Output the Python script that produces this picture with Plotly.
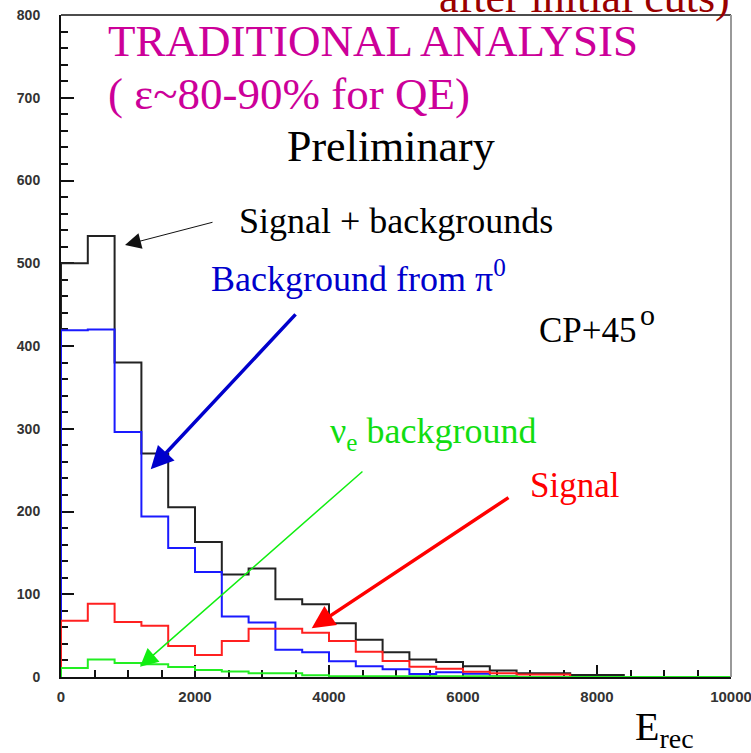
import plotly.graph_objects as go

# Reconstructed-energy histogram: 25 bins of 400 from 0 to 10000
bin_width = 400
n_bins = 25
edges = [i * bin_width for i in range(n_bins + 1)]

total = [500, 533, 380, 270, 205, 163, 124, 131, 94, 88, 65, 45, 30,
         21, 18, 13, 8, 4.5, 4.5, 2.5, 2.5, 0, 0, 0, 0]
pi0_bkg = [419, 420, 296, 194, 156, 127, 73, 66, 33, 30, 19, 13, 9.5,
           3.6, 5.6, 4, 1, 0, 0, 0, 0, 0, 0, 0, 0]
signal = [68, 88.6, 66.5, 62, 37.5, 26.6, 43.5, 58.4, 58.4, 53.5, 43.5, 30.6, 19.3,
          12.5, 10, 6.4, 4.4, 3, 3, 0, 0, 0, 0, 0, 0]
nue_bkg = [11, 21, 17, 15.5, 12, 8.5, 6.5, 4.5, 4.5, 2, 1, 1, 1,
           1, 1, 1, 1, 0, 0, 0, 0, 0, 0, 0, 0]

x_ticks = [0, 2000, 4000, 6000, 8000, 10000]
y_ticks = [0, 100, 200, 300, 400, 500, 600, 700, 800]

SERIF = "Liberation Serif, Times New Roman, serif"
SANS = "Liberation Sans, Arial, sans-serif"


def step_trace(vals, color, name):
    # ROOT-style histogram outline: rise from zero at the first edge
    xs = [edges[0]] + edges
    ys = [0] + list(vals) + [vals[-1]]
    return go.Scatter(x=xs, y=ys, mode="lines", name=name,
                      line=dict(color=color, width=2, shape="hv"),
                      cliponaxis=False, showlegend=False, hoverinfo="skip")


fig = go.Figure()
fig.add_trace(step_trace(total, "#222222", "Signal + backgrounds"))
fig.add_trace(step_trace(pi0_bkg, "#1a1aff", "Background from pi0"))
fig.add_trace(step_trace(signal, "#ff2020", "Signal"))
fig.add_trace(step_trace(nue_bkg, "#22ee22", "nu_e background"))

texts = [
    # text, x, y (data units), font size, colour
    ("TRADITIONAL ANALYSIS", 672, 768, 45, "#cc0099"),
    ("( \u03b5~80-90% for QE)", 672, 704, 45, "#cc0099"),
    ("Preliminary", 3343, 641, 44, "#000000"),
    ("Signal + backgrounds", 2627, 551, 36, "#000000"),
    ("Background from \u03c0<sup>0</sup>", 2209, 484, 36, "#0000cc"),
    ("CP+45", 7104, 419, 35, "#000000"),
    ("o", 8612, 438, 30, "#000000"),
    ("\u03bd<sub>e</sub> background", 3985, 294, 36, "#11dd11"),
    ("Signal", 6970, 232, 35, "#ff0000"),
]
annotations = []
for t, xv, yv, size, color in texts:
    annotations.append(dict(text=t, x=xv, y=yv, xref="x", yref="y",
                            xanchor="left", yanchor="middle", showarrow=False,
                            font=dict(family=SERIF, size=size, color=color)))

# Heading continued from above the frame, and the axis title below it
annotations.append(dict(text="after initial cuts)", x=0.561, y=1.027,
                        xref="paper", yref="paper", xanchor="left", yanchor="middle",
                        showarrow=False,
                        font=dict(family=SERIF, size=44, color="#990000")))
annotations.append(dict(text="E<sub>rec</sub>", x=8537, y=-0.078, xref="x", yref="paper",
                        xanchor="left", yanchor="middle", showarrow=False,
                        font=dict(family=SERIF, size=40, color="#000000")))

arrows = [
    # head x, head y, tail x, tail y, colour, width, head size
    (955, 522, 2284, 550, "#111111", 1, 3.2),
    (1339, 251, 3522, 440, "#0000cc", 3.5, 1.3),
    (1179, 12.4, 4522, 250, "#11ee11", 1.5, 2.4),
    (3742, 59, 6701, 218, "#ff0000", 3.5, 1.3),
]
for hx, hy, tx, ty, color, w, s in arrows:
    annotations.append(dict(x=hx, y=hy, ax=tx, ay=ty, xref="x", yref="y",
                            axref="x", ayref="y", text="", showarrow=True,
                            arrowhead=2, arrowsize=s, arrowwidth=w,
                            arrowcolor=color, standoff=0))

fig.update_layout(
    width=751, height=753, autosize=False,
    margin=dict(l=61, r=20, t=15, b=76, pad=0, autoexpand=False),
    paper_bgcolor="white", plot_bgcolor="white",
    annotations=annotations,
    shapes=[
        dict(type="line", xref="paper", yref="paper", x0=0, x1=1, y0=1, y1=1,
             line=dict(color="#111111", width=1.5)),
        dict(type="line", xref="paper", yref="paper", x0=1, x1=1, y0=0, y1=1,
             line=dict(color="#999999", width=2)),
    ],
    xaxis=dict(range=[0, 10000], tickvals=x_ticks, ticktext=[str(v) for v in x_ticks],
               ticks="inside", ticklen=12, tickwidth=1.5, tickcolor="#111111",
               minor=dict(dtick=500, ticks="inside", ticklen=7, tickwidth=1.5,
                          tickcolor="#111111"),
               showline=True, linecolor="#111111", linewidth=2,
               showgrid=False, zeroline=False, layer="below traces",
               automargin=False,
               ticklabelstandoff=5, ticklabeloverflow="allow",
               tickfont=dict(family=SANS, size=15, color="#333333", weight="bold")),
    yaxis=dict(range=[0, 800], tickvals=y_ticks, ticktext=[str(v) for v in y_ticks],
               ticks="inside", ticklen=13, tickwidth=1.5, tickcolor="#111111",
               minor=dict(dtick=20, ticks="inside", ticklen=7, tickwidth=1.5,
                          tickcolor="#111111"),
               showline=True, linecolor="#111111", linewidth=2,
               showgrid=False, zeroline=False, layer="below traces",
               automargin=False,
               ticklabelstandoff=16, ticklabeloverflow="allow",
               tickfont=dict(family=SANS, size=14, color="#333333", weight="bold")),
)

fig.write_html("out.html")
